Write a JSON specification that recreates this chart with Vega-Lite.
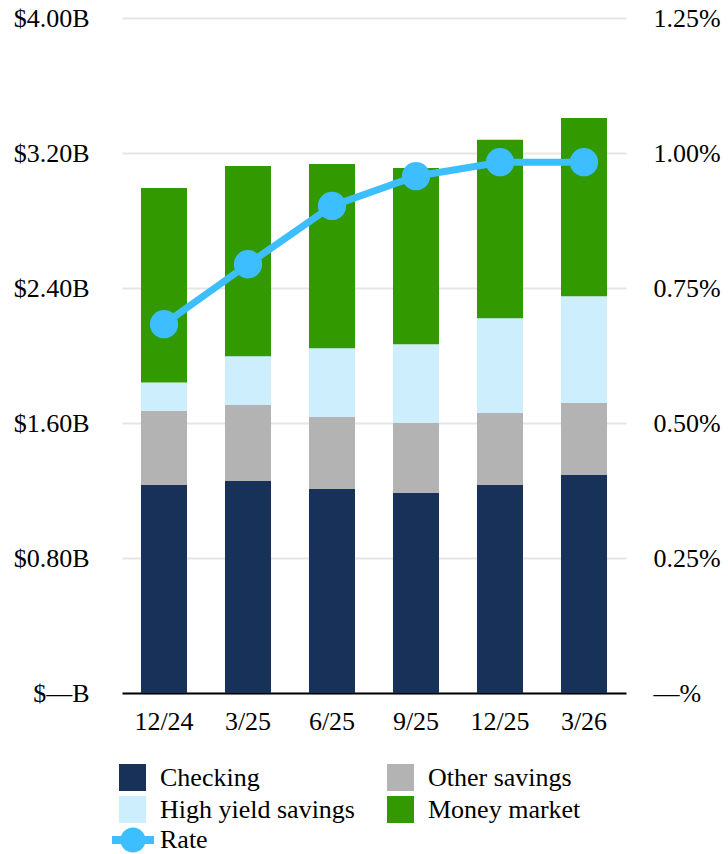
{
  "$schema": "https://vega.github.io/schema/vega-lite/v6.json",
  "autosize": "none",
  "width": 504,
  "height": 675,
  "padding": {"left": 122, "top": 18, "right": 102, "bottom": 161},
  "background": "white",
  "config": {
    "view": {"stroke": null},
    "font": "Liberation Serif",
    "axis": {"labelFont": "Liberation Serif", "labelFontSize": 26, "labelColor": "#000000", "ticks": false, "title": null},
    "legend": {"labelFont": "Liberation Serif", "labelFontSize": 26, "labelColor": "#000000"}
  },
  "datasets": {
    "balances": [
      {"quarter": "12/24", "category": "Checking", "rank": 1, "value": 1.233},
      {"quarter": "12/24", "category": "Other savings", "rank": 2, "value": 0.439},
      {"quarter": "12/24", "category": "High yield savings", "rank": 3, "value": 0.168},
      {"quarter": "12/24", "category": "Money market", "rank": 4, "value": 1.152},
      {"quarter": "3/25", "category": "Checking", "rank": 1, "value": 1.256},
      {"quarter": "3/25", "category": "Other savings", "rank": 2, "value": 0.450},
      {"quarter": "3/25", "category": "High yield savings", "rank": 3, "value": 0.289},
      {"quarter": "3/25", "category": "Money market", "rank": 4, "value": 1.128},
      {"quarter": "6/25", "category": "Checking", "rank": 1, "value": 1.209},
      {"quarter": "6/25", "category": "Other savings", "rank": 2, "value": 0.427},
      {"quarter": "6/25", "category": "High yield savings", "rank": 3, "value": 0.407},
      {"quarter": "6/25", "category": "Money market", "rank": 4, "value": 1.092},
      {"quarter": "9/25", "category": "Checking", "rank": 1, "value": 1.185},
      {"quarter": "9/25", "category": "Other savings", "rank": 2, "value": 0.415},
      {"quarter": "9/25", "category": "High yield savings", "rank": 3, "value": 0.466},
      {"quarter": "9/25", "category": "Money market", "rank": 4, "value": 1.045},
      {"quarter": "12/25", "category": "Checking", "rank": 1, "value": 1.233},
      {"quarter": "12/25", "category": "Other savings", "rank": 2, "value": 0.427},
      {"quarter": "12/25", "category": "High yield savings", "rank": 3, "value": 0.561},
      {"quarter": "12/25", "category": "Money market", "rank": 4, "value": 1.057},
      {"quarter": "3/26", "category": "Checking", "rank": 1, "value": 1.292},
      {"quarter": "3/26", "category": "Other savings", "rank": 2, "value": 0.427},
      {"quarter": "3/26", "category": "High yield savings", "rank": 3, "value": 0.632},
      {"quarter": "3/26", "category": "Money market", "rank": 4, "value": 1.057}
    ],
    "rates": [
      {"quarter": "12/24", "series": "Rate", "rate": 0.683},
      {"quarter": "3/25", "series": "Rate", "rate": 0.794},
      {"quarter": "6/25", "series": "Rate", "rate": 0.902},
      {"quarter": "9/25", "series": "Rate", "rate": 0.957},
      {"quarter": "12/25", "series": "Rate", "rate": 0.983},
      {"quarter": "3/26", "series": "Rate", "rate": 0.983}
    ]
  },
  "encoding": {
    "x": {
      "field": "quarter",
      "type": "nominal",
      "sort": ["12/24", "3/25", "6/25", "9/25", "12/25", "3/26"],
      "scale": {"paddingInner": 0.452, "paddingOuter": 0.226},
      "axis": {"labelAngle": 0, "labelPadding": 15, "domain": true, "domainColor": "#000000", "domainWidth": 2, "grid": false}
    }
  },
  "layer": [
    {
      "data": {"name": "balances"},
      "mark": {"type": "bar"},
      "encoding": {
        "y": {
          "field": "value",
          "type": "quantitative",
          "aggregate": "sum",
          "stack": "zero",
          "scale": {"domain": [0, 4], "nice": false},
          "axis": {
            "orient": "left",
            "values": [0, 0.8, 1.6, 2.4, 3.2, 4.0],
            "labelExpr": "datum.value == 0 ? '$—B' : '$' + format(datum.value, '.2f') + 'B'",
            "labelPadding": 33,
            "domain": false,
            "grid": true,
            "gridColor": "#e5e5e5",
            "gridWidth": 2
          }
        },
        "order": {"field": "rank", "type": "quantitative", "sort": "ascending"},
        "color": {
          "field": "category",
          "type": "nominal",
          "scale": {
            "domain": ["Checking", "Other savings", "High yield savings", "Money market"],
            "range": ["#173158", "#b3b3b3", "#cdeefd", "#339900"]
          },
          "legend": {
            "title": null,
            "orient": "none",
            "direction": "horizontal",
            "legendX": -3,
            "legendY": 746,
            "columns": 2,
            "symbolType": "square",
            "symbolSize": 729,
            "symbolStrokeWidth": 0,
            "symbolOpacity": 1,
            "labelOffset": 14,
            "columnPadding": 32,
            "rowPadding": 5,
            "labelLimit": 400
          }
        }
      }
    },
    {
      "data": {"name": "rates"},
      "mark": {"type": "line", "strokeWidth": 7},
      "encoding": {
        "y": {
          "field": "rate",
          "type": "quantitative",
          "scale": {"domain": [0, 1.25], "nice": false},
          "axis": {
            "orient": "right",
            "values": [0, 0.25, 0.5, 0.75, 1.0, 1.25],
            "labelExpr": "datum.value == 0 ? '—%' : format(datum.value, '.2f') + '%'",
            "labelPadding": 27,
            "domain": false,
            "grid": false
          }
        },
        "stroke": {
          "field": "series",
          "type": "nominal",
          "scale": {"domain": ["Rate"], "range": ["#3dbfff"]},
          "legend": {
            "title": null,
            "orient": "none",
            "legendX": -10,
            "legendY": 801,
            "symbolType": "M-1,-0.19 L1,-0.19 L1,0.19 L-1,0.19 Z M-0.6,0 A0.6,0.6 0 1,1 0.6,0 A0.6,0.6 0 1,1 -0.6,0 Z",
            "symbolSize": 1764,
            "symbolStrokeWidth": 0,
            "symbolFillColor": "#3dbfff",
            "labelOffset": 6,
            "encode": {"symbols": {"update": {"fill": {"value": "#3dbfff"}, "strokeWidth": {"value": 0}, "opacity": {"value": 1}}}}
          }
        }
      }
    },
    {
      "data": {"name": "rates"},
      "mark": {"type": "point", "filled": true, "size": 800, "opacity": 1, "color": "#3dbfff"},
      "encoding": {
        "y": {"field": "rate", "type": "quantitative", "scale": {"domain": [0, 1.25], "nice": false}, "axis": null}
      }
    }
  ],
  "resolve": {"scale": {"y": "independent"}}
}
